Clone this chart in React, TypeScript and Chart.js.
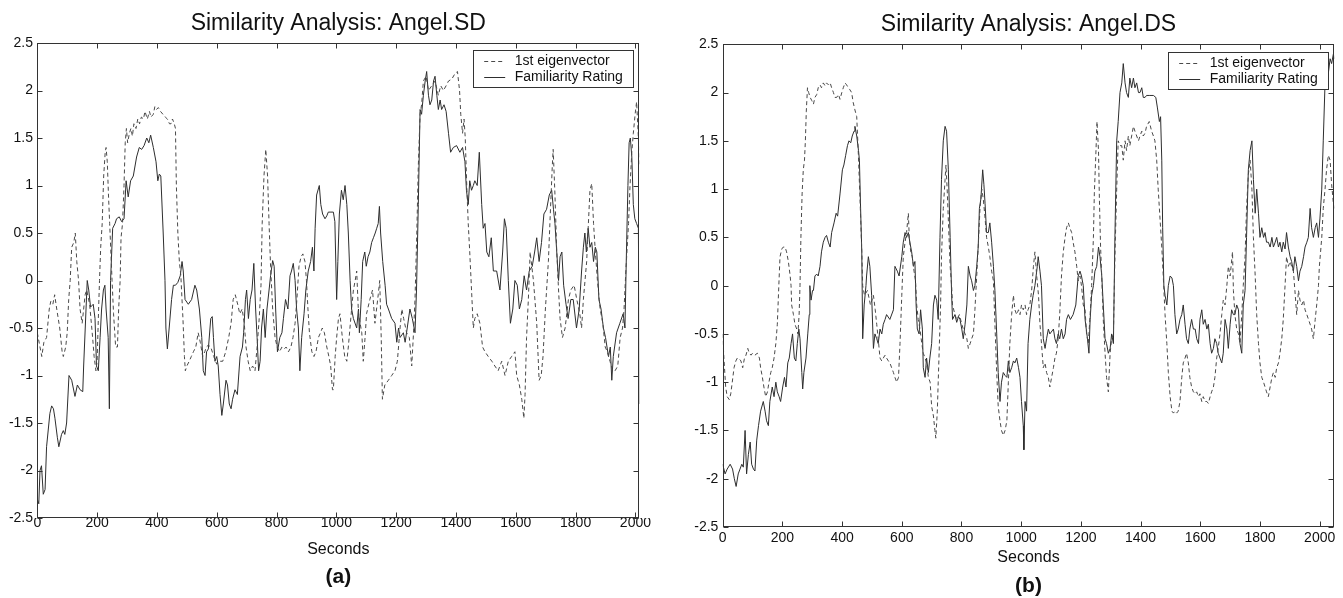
import React, { useEffect, useRef } from 'react';
import { Chart, registerables } from 'chart.js';

Chart.register(...registerables);

const FONT = "'Liberation Sans', Arial, Helvetica, sans-serif";
const TEXT_COLOR = '#111111';
const AXIS_COLOR = '#333333';
const EIG_COLOR = '#4a4a4a';
const FAM_COLOR = '#2e2e2e';

const seriesLabels = ['1st eigenvector', 'Familiarity Rating'];
const xLabel = 'Seconds';
const xTickValues = [0, 200, 400, 600, 800, 1000, 1200, 1400, 1600, 1800, 2000];
const yTickValues = [-2.5, -2, -1.5, -1, -0.5, 0, 0.5, 1, 1.5, 2, 2.5];
const yMin = -2.5;
const yMax = 2.5;

// ---- Panel (a): Angel.SD  ([seconds, value]) ----
const sdEigenvector: [number, number][] = [[0,-0.55],[9,-0.7],[15,-0.8],[22,-0.65],[31,-0.6],[40,-0.3],[45,-0.22],[52,-0.25],[58,-0.15],[65,-0.3],[75,-0.5],[83,-0.75],[87,-0.8],[95,-0.7],[100,-0.55],[105,-0.2],[110,0.0],[115,0.35],[122,0.4],[127,0.5],[132,0.2],[138,0.0],[143,-0.3],[150,-0.45],[155,-0.3],[160,-0.15],[165,-0.1],[175,-0.25],[185,-0.6],[190,-0.8],[196,-0.95],[200,-0.85],[205,-0.3],[208,0.0],[212,0.35],[217,0.6],[222,1.1],[227,1.35],[230,1.4],[234,1.25],[238,0.9],[242,0.6],[246,0.3],[250,0.0],[255,-0.35],[262,-0.7],[268,-0.7],[272,-0.3],[277,0.0],[280,0.45],[285,0.6],[290,1.0],[294,1.45],[298,1.6],[302,1.45],[308,1.55],[313,1.6],[318,1.52],[323,1.65],[330,1.6],[336,1.7],[342,1.65],[348,1.72],[355,1.7],[360,1.78],[368,1.7],[375,1.78],[380,1.72],[388,1.75],[393,1.83],[398,1.8],[405,1.82],[412,1.78],[420,1.75],[428,1.72],[435,1.7],[442,1.65],[447,1.65],[452,1.7],[458,1.65],[462,1.6],[465,1.0],[470,0.5],[475,0.2],[480,0.05],[487,-0.4],[492,-0.8],[495,-0.95],[500,-0.9],[508,-0.85],[515,-0.8],[522,-0.75],[530,-0.7],[538,-0.55],[545,-0.65],[553,-0.8],[560,-0.75],[565,-0.7],[572,-0.68],[580,-0.7],[590,-0.8],[600,-0.88],[610,-0.85],[620,-0.85],[630,-0.75],[640,-0.6],[648,-0.45],[655,-0.2],[662,-0.15],[670,-0.25],[677,-0.35],[685,-0.3],[692,-0.45],[698,-0.7],[705,-0.85],[712,-0.95],[720,-0.9],[728,-0.95],[735,-0.7],[742,-0.4],[748,-0.05],[752,0.6],[758,1.1],[764,1.38],[770,1.1],[775,0.6],[780,0.15],[787,-0.3],[795,-0.6],[802,-0.7],[810,-0.75],[818,-0.7],[826,-0.72],[832,-0.7],[840,-0.75],[848,-0.7],[855,-0.6],[862,-0.45],[868,-0.2],[875,0.15],[882,0.25],[888,0.28],[895,0.2],[900,0.0],[905,-0.3],[910,-0.55],[918,-0.75],[925,-0.8],[932,-0.75],[940,-0.6],[947,-0.55],[953,-0.5],[960,-0.55],[968,-0.7],[975,-0.8],[981,-0.9],[987,-1.15],[990,-1.15],[996,-0.8],[1001,-0.6],[1007,-0.4],[1012,-0.35],[1020,-0.6],[1028,-0.8],[1035,-0.85],[1040,-0.7],[1051,-0.3],[1057,-0.1],[1063,0.0],[1068,0.1],[1074,-0.35],[1085,-0.55],[1090,-0.85],[1096,-0.6],[1101,-0.35],[1112,-0.2],[1121,-0.1],[1129,-0.45],[1140,-0.15],[1145,0.0],[1150,-0.6],[1154,-1.25],[1162,-1.1],[1174,-1.05],[1185,-1.0],[1196,-0.95],[1204,-0.85],[1213,-0.5],[1219,-0.3],[1225,-0.4],[1235,-0.55],[1244,-0.6],[1252,-0.9],[1258,-0.55],[1263,-0.2],[1269,0.5],[1274,1.2],[1280,1.75],[1285,1.85],[1291,2.1],[1300,2.15],[1308,2.0],[1319,2.05],[1330,2.1],[1341,1.95],[1349,2.05],[1358,2.0],[1367,2.05],[1375,2.1],[1386,2.12],[1397,2.18],[1405,2.2],[1412,2.0],[1416,1.75],[1422,1.55],[1427,1.7],[1431,1.5],[1436,1.0],[1441,0.6],[1446,0.3],[1452,-0.1],[1458,-0.5],[1463,-0.4],[1471,-0.35],[1480,-0.45],[1489,-0.7],[1497,-0.75],[1508,-0.8],[1520,-0.85],[1530,-0.9],[1541,-0.95],[1553,-0.85],[1564,-1.0],[1575,-0.85],[1586,-0.8],[1597,-0.75],[1603,-1.0],[1612,-1.1],[1620,-1.25],[1627,-1.45],[1631,-1.2],[1636,-0.6],[1642,-0.2],[1648,0.3],[1659,0.0],[1670,-0.45],[1678,-1.05],[1685,-1.0],[1691,-0.8],[1699,-0.3],[1709,0.2],[1714,0.6],[1722,1.2],[1725,1.38],[1731,0.9],[1737,0.3],[1743,-0.1],[1748,-0.4],[1756,-0.6],[1765,-0.5],[1776,-0.2],[1784,-0.1],[1795,-0.05],[1804,-0.2],[1814,-0.35],[1820,-0.5],[1826,-0.2],[1837,0.2],[1842,0.55],[1848,0.95],[1854,1.02],[1860,0.6],[1865,0.35],[1873,0.0],[1882,-0.3],[1891,-0.45],[1899,-0.7],[1906,-0.75],[1915,-0.85],[1924,-0.95],[1932,-0.95],[1941,-0.9],[1949,-0.6],[1957,-0.5],[1962,-0.3],[1968,0.1],[1977,0.6],[1982,1.0],[1988,1.35],[1993,1.55],[1999,1.75],[2004,1.88],[2010,1.5],[2013,1.2]];

const sdFamiliarity: [number, number][] = [[0,-2.3],[5,-2.35],[9,-2.0],[14,-1.95],[20,-2.25],[26,-2.2],[31,-1.75],[42,-1.4],[48,-1.32],[54,-1.35],[59,-1.45],[67,-1.65],[72,-1.75],[81,-1.62],[87,-1.58],[92,-1.62],[98,-1.5],[106,-1.0],[115,-1.05],[126,-1.22],[134,-1.1],[143,-1.15],[152,-1.17],[155,-0.9],[163,-0.3],[167,0.0],[172,-0.1],[178,-0.28],[187,-0.25],[193,-0.4],[198,-0.9],[204,-0.95],[210,-0.6],[215,-0.3],[221,-0.1],[226,-0.05],[230,-0.3],[237,-0.6],[241,-1.35],[245,0.0],[252,0.55],[260,0.6],[265,0.65],[274,0.67],[282,0.62],[290,0.65],[297,1.05],[304,0.88],[312,1.05],[321,1.1],[332,1.3],[341,1.4],[349,1.38],[357,1.42],[366,1.5],[373,1.45],[379,1.53],[388,1.4],[397,1.25],[403,1.05],[408,1.12],[413,1.1],[421,0.5],[427,0.0],[430,-0.5],[435,-0.72],[441,-0.5],[449,-0.2],[455,-0.05],[462,-0.05],[470,-0.02],[478,0.05],[484,0.2],[488,0.1],[494,-0.2],[505,-0.25],[516,-0.2],[527,-0.05],[533,-0.1],[542,-0.3],[550,-0.6],[555,-0.95],[561,-1.0],[566,-0.75],[572,-0.72],[580,-0.4],[585,-0.38],[589,-0.6],[594,-0.85],[600,-0.8],[605,-0.9],[611,-1.2],[617,-1.42],[622,-1.3],[631,-1.05],[636,-1.1],[642,-1.3],[648,-1.35],[653,-1.25],[661,-1.15],[669,-1.2],[678,-0.8],[686,-0.7],[690,-0.55],[696,-0.2],[700,-0.1],[706,-0.4],[712,-0.2],[718,-0.1],[724,0.18],[730,-0.3],[735,-0.6],[740,-0.95],[745,-0.85],[750,-0.5],[756,-0.3],[762,-0.6],[768,-0.3],[775,-0.1],[780,0.05],[787,0.21],[792,0.15],[797,-0.3],[803,-0.75],[811,-0.6],[818,-0.55],[823,-0.4],[830,-0.2],[838,-0.3],[845,0.05],[850,0.1],[856,0.18],[862,0.0],[867,-0.3],[873,-0.5],[878,-0.95],[884,-0.6],[892,-0.35],[898,-0.1],[906,0.1],[914,0.2],[920,0.35],[925,0.1],[929,0.55],[934,0.9],[943,1.0],[948,0.8],[954,0.7],[962,0.65],[968,0.68],[973,0.72],[979,0.72],[990,0.72],[995,0.62],[1001,-0.2],[1005,0.2],[1010,0.7],[1017,0.95],[1023,0.85],[1029,1.0],[1035,0.8],[1040,0.5],[1046,0.0],[1051,-0.3],[1057,-0.4],[1068,-0.5],[1074,-0.3],[1077,-0.55],[1083,-0.2],[1088,0.2],[1095,0.3],[1100,0.15],[1106,0.25],[1112,0.3],[1118,0.4],[1124,0.45],[1130,0.5],[1135,0.55],[1140,0.6],[1144,0.78],[1148,0.5],[1155,0.2],[1163,-0.05],[1168,-0.25],[1174,-0.3],[1185,-0.4],[1196,-0.45],[1202,-0.65],[1208,-0.5],[1213,-0.6],[1224,-0.55],[1230,-0.65],[1237,-0.5],[1246,-0.3],[1254,-0.4],[1263,-0.55],[1268,-0.1],[1274,0.8],[1280,1.8],[1285,1.75],[1291,1.95],[1297,2.1],[1302,2.2],[1308,1.95],[1313,1.85],[1319,1.9],[1325,2.1],[1330,2.15],[1336,1.95],[1341,1.8],[1347,1.9],[1352,1.8],[1360,1.85],[1367,1.78],[1375,1.55],[1382,1.35],[1391,1.4],[1402,1.42],[1413,1.35],[1422,1.4],[1430,1.25],[1435,0.95],[1441,0.8],[1446,1.05],[1452,0.95],[1458,1.0],[1463,1.05],[1471,1.0],[1478,1.35],[1486,0.8],[1491,0.55],[1497,0.6],[1503,0.3],[1510,0.25],[1518,0.45],[1525,0.1],[1536,0.1],[1547,-0.1],[1556,0.3],[1562,0.65],[1568,0.55],[1575,0.0],[1582,-0.45],[1590,-0.3],[1597,0.0],[1605,-0.05],[1612,-0.3],[1620,-0.2],[1628,0.05],[1636,-0.1],[1645,0.1],[1655,0.15],[1663,0.3],[1670,0.45],[1678,0.2],[1686,0.4],[1694,0.7],[1703,0.75],[1712,0.9],[1720,0.95],[1726,0.75],[1731,0.6],[1737,0.3],[1743,0.0],[1748,0.25],[1754,0.3],[1760,-0.05],[1768,-0.25],[1775,-0.4],[1784,-0.2],[1792,-0.2],[1803,-0.5],[1812,-0.3],[1820,0.1],[1826,0.35],[1831,0.5],[1836,0.3],[1842,0.55],[1848,0.35],[1854,0.4],[1860,0.2],[1866,0.35],[1871,0.3],[1878,-0.2],[1885,-0.3],[1893,-0.5],[1900,-0.6],[1910,-0.8],[1916,-0.7],[1921,-1.05],[1926,-0.8],[1937,-0.55],[1948,-0.45],[1959,-0.35],[1965,-0.5],[1970,0.3],[1975,1.0],[1979,1.45],[1983,1.5],[1988,1.3],[1993,0.8],[1998,0.65],[2004,0.6],[2010,0.55],[2013,-1.3]];

// ---- Panel (b): Angel.DS ----
const dsEigenvector: [number, number][] = [[0,-0.5],[4,-0.75],[10,-1.05],[15,-1.15],[22,-1.18],[27,-1.12],[32,-1.0],[38,-0.85],[44,-0.78],[49,-0.75],[56,-0.76],[61,-0.78],[67,-0.85],[73,-0.75],[78,-0.72],[84,-0.65],[89,-0.7],[95,-0.72],[100,-0.7],[108,-0.72],[116,-0.7],[123,-0.75],[127,-0.85],[133,-0.95],[138,-1.05],[144,-1.15],[150,-1.1],[155,-1.0],[161,-0.9],[166,-0.85],[172,-0.75],[178,-0.6],[183,-0.4],[188,0.0],[192,0.3],[198,0.38],[203,0.4],[209,0.4],[214,0.35],[220,0.25],[226,0.1],[229,0.0],[231,-0.2],[237,-0.3],[242,-0.4],[248,-0.45],[252,-0.5],[256,-0.3],[259,0.0],[262,0.5],[266,0.95],[270,1.2],[274,1.3],[277,1.5],[280,1.8],[284,2.05],[288,2.0],[293,1.95],[298,1.92],[304,1.88],[309,1.95],[315,1.98],[320,2.05],[326,2.08],[331,2.05],[337,2.1],[343,2.07],[348,2.1],[354,2.08],[360,2.1],[365,2.05],[371,2.0],[376,1.95],[382,1.95],[388,1.98],[393,1.93],[399,2.0],[404,2.05],[410,2.1],[415,2.08],[421,2.05],[426,2.03],[432,2.0],[437,1.9],[443,1.82],[449,1.75],[454,1.4],[460,0.9],[466,0.35],[469,0.0],[475,-0.1],[485,-0.05],[495,-0.2],[505,-0.1],[511,-0.25],[516,-0.4],[521,-0.55],[527,-0.75],[533,-0.78],[538,-0.75],[544,-0.72],[549,-0.75],[555,-0.78],[560,-0.8],[566,-0.85],[572,-0.9],[577,-0.95],[583,-1.0],[589,-0.95],[594,-0.6],[600,-0.1],[605,0.3],[611,0.45],[616,0.55],[622,0.75],[625,0.5],[630,0.35],[635,0.3],[641,0.15],[646,0.05],[650,-0.2],[655,-0.35],[661,-0.45],[667,-0.6],[672,-0.7],[678,-0.75],[683,-0.8],[689,-0.95],[695,-1.0],[700,-1.25],[706,-1.35],[711,-1.5],[714,-1.58],[719,-1.3],[722,-1.0],[726,-0.6],[730,-0.2],[733,0.3],[739,0.8],[745,1.1],[748,1.25],[752,1.0],[757,0.6],[762,0.2],[767,0.0],[770,-0.2],[778,-0.3],[784,-0.35],[793,-0.3],[801,-0.4],[806,-0.45],[812,-0.5],[818,-0.55],[823,-0.65],[829,-0.6],[834,-0.55],[840,-0.5],[845,-0.25],[851,0.1],[856,0.4],[862,0.8],[868,1.0],[873,0.9],[879,0.7],[884,0.5],[890,0.4],[895,0.3],[901,0.15],[907,0.05],[912,-0.4],[918,-0.9],[923,-1.25],[929,-1.4],[934,-1.5],[940,-1.55],[946,-1.5],[952,-1.4],[957,-1.0],[962,-0.6],[968,-0.3],[974,-0.1],[979,-0.25],[985,-0.3],[991,-0.25],[996,-0.3],[1001,-0.2],[1007,-0.25],[1013,-0.2],[1018,-0.3],[1023,-0.25],[1029,-0.2],[1035,-0.05],[1041,0.2],[1046,0.35],[1052,0.1],[1058,-0.1],[1063,-0.4],[1068,-0.6],[1074,-0.85],[1080,-0.8],[1085,-0.9],[1091,-0.95],[1096,-1.05],[1102,-0.95],[1108,-0.85],[1113,-0.75],[1118,-0.7],[1124,-0.55],[1129,-0.3],[1135,0.1],[1141,0.35],[1147,0.5],[1152,0.6],[1158,0.65],[1163,0.6],[1169,0.55],[1174,0.45],[1180,0.35],[1186,0.2],[1191,0.05],[1197,0.1],[1202,0.0],[1208,-0.2],[1214,-0.25],[1219,-0.5],[1225,-0.6],[1231,-0.3],[1236,0.0],[1242,0.5],[1245,0.95],[1250,1.35],[1254,1.7],[1259,1.4],[1262,0.9],[1266,0.4],[1271,0.0],[1275,-0.35],[1281,-0.7],[1286,-0.95],[1292,-1.1],[1298,-0.7],[1303,-0.55],[1309,-0.5],[1314,0.3],[1320,1.0],[1325,1.5],[1331,1.45],[1337,1.45],[1342,1.3],[1348,1.5],[1353,1.4],[1359,1.55],[1364,1.45],[1370,1.55],[1376,1.65],[1381,1.6],[1387,1.55],[1393,1.5],[1398,1.55],[1404,1.6],[1409,1.55],[1415,1.58],[1420,1.65],[1429,1.7],[1437,1.6],[1443,1.55],[1448,1.5],[1454,1.3],[1459,1.0],[1465,0.7],[1471,0.4],[1476,0.1],[1482,-0.3],[1488,-0.6],[1493,-0.9],[1499,-1.15],[1505,-1.3],[1510,-1.32],[1515,-1.3],[1521,-1.32],[1526,-1.3],[1532,-1.2],[1538,-0.95],[1543,-0.8],[1549,-0.75],[1554,-0.7],[1560,-0.8],[1565,-0.95],[1571,-1.05],[1577,-1.1],[1583,-1.12],[1588,-1.1],[1594,-1.15],[1599,-1.12],[1605,-1.2],[1610,-1.15],[1616,-1.2],[1622,-1.2],[1627,-1.22],[1633,-1.15],[1638,-1.1],[1644,-1.05],[1649,-0.95],[1655,-0.75],[1660,-0.65],[1666,-0.5],[1672,-0.3],[1677,-0.15],[1683,-0.2],[1689,0.0],[1694,0.2],[1700,0.1],[1708,0.35],[1711,-0.05],[1716,-0.3],[1722,-0.45],[1728,-0.5],[1733,-0.6],[1739,-0.3],[1744,0.0],[1750,0.3],[1755,0.8],[1761,1.15],[1767,1.3],[1773,1.0],[1778,0.5],[1784,0.1],[1789,-0.3],[1795,-0.6],[1800,-0.8],[1806,-0.95],[1812,-1.0],[1817,-1.05],[1822,-1.1],[1828,-1.15],[1834,-1.05],[1840,-0.95],[1845,-0.9],[1851,-0.95],[1856,-0.85],[1862,-0.8],[1867,-0.7],[1873,-0.55],[1878,-0.35],[1884,0.0],[1889,0.3],[1895,0.2],[1901,0.25],[1906,0.2],[1912,0.15],[1917,-0.05],[1923,-0.3],[1929,-0.05],[1934,-0.15],[1940,-0.2],[1946,-0.15],[1951,-0.25],[1957,-0.3],[1968,-0.4],[1973,-0.45],[1979,-0.55],[1985,-0.35],[1990,-0.2],[1996,0.0],[1999,0.2],[2007,0.5],[2012,0.8],[2018,1.0],[2023,1.2],[2029,1.35],[2035,1.3],[2040,1.05],[2046,0.85],[2049,0.8]];

const dsFamiliarity: [number, number][] = [[0,-1.85],[8,-1.95],[15,-1.9],[25,-1.85],[33,-1.9],[39,-2.0],[45,-2.08],[52,-1.95],[58,-1.9],[64,-1.85],[69,-1.88],[75,-1.5],[80,-1.95],[86,-1.75],[92,-1.62],[97,-1.85],[103,-1.9],[108,-1.92],[114,-1.6],[120,-1.45],[127,-1.3],[136,-1.2],[142,-1.3],[147,-1.4],[153,-1.45],[158,-1.2],[166,-1.05],[172,-1.15],[178,-1.0],[183,-1.1],[189,-1.15],[194,-1.2],[201,-1.05],[207,-0.95],[212,-1.05],[218,-0.8],[223,-0.75],[229,-0.6],[234,-0.5],[240,-0.75],[245,-0.78],[250,-0.6],[255,-0.45],[259,-0.55],[265,-0.9],[268,-1.07],[272,-0.9],[279,-0.75],[285,-0.5],[290,-0.3],[292,0.0],[296,-0.15],[301,-0.05],[304,-0.05],[309,0.1],[315,0.12],[320,0.1],[326,0.2],[331,0.35],[337,0.45],[343,0.5],[348,0.52],[354,0.45],[360,0.4],[365,0.55],[373,0.65],[380,0.75],[385,0.72],[393,0.95],[401,1.2],[406,1.25],[412,1.35],[418,1.45],[423,1.5],[429,1.48],[434,1.55],[440,1.6],[443,1.65],[449,1.55],[455,1.4],[458,1.3],[462,0.8],[466,0.35],[469,-0.55],[474,-0.2],[480,0.0],[482,0.1],[488,0.3],[493,0.2],[499,-0.1],[505,-0.65],[510,-0.5],[516,-0.55],[521,-0.6],[527,-0.45],[533,-0.5],[538,-0.4],[544,-0.35],[549,-0.3],[560,-0.35],[572,-0.25],[577,0.2],[585,0.15],[591,0.1],[600,0.3],[605,0.45],[611,0.55],[616,0.5],[622,0.55],[627,0.45],[633,0.35],[639,0.2],[644,0.25],[648,-0.2],[652,-0.45],[658,-0.5],[663,-0.25],[669,-0.45],[672,-0.85],[678,-0.95],[683,-0.75],[689,-0.9],[694,-0.75],[700,-0.6],[706,-0.2],[711,-0.1],[717,-0.15],[722,-0.35],[728,0.5],[733,1.1],[739,1.5],[745,1.65],[750,1.6],[756,1.2],[762,0.5],[767,-0.1],[770,-0.35],[778,-0.3],[784,-0.38],[790,-0.32],[795,-0.35],[801,-0.45],[806,-0.55],[812,-0.4],[818,-0.2],[823,0.2],[829,0.1],[834,0.05],[840,-0.05],[845,0.0],[851,0.2],[856,0.4],[860,0.8],[865,0.9],[871,1.2],[875,1.05],[879,0.85],[884,0.55],[890,0.55],[895,0.65],[901,0.45],[907,0.2],[912,-0.05],[918,-0.5],[923,-0.9],[929,-1.2],[934,-1.0],[940,-0.9],[946,-0.93],[952,-0.95],[957,-0.78],[962,-0.9],[968,-0.85],[974,-0.78],[979,-0.8],[985,-0.75],[991,-0.85],[996,-0.95],[1001,-1.2],[1007,-1.45],[1009,-1.7],[1013,-1.2],[1018,-1.3],[1023,-0.6],[1029,-0.35],[1035,-0.2],[1040,-0.1],[1046,0.0],[1054,0.2],[1057,0.3],[1063,0.15],[1068,0.0],[1074,-0.55],[1080,-0.65],[1085,-0.55],[1091,-0.45],[1096,-0.5],[1108,-0.45],[1113,-0.55],[1118,-0.6],[1124,-0.5],[1129,-0.55],[1135,-0.45],[1141,-0.55],[1147,-0.5],[1152,-0.35],[1158,-0.3],[1165,-0.35],[1174,-0.3],[1183,-0.2],[1191,0.1],[1197,0.15],[1202,0.1],[1208,0.0],[1214,-0.35],[1222,-0.55],[1227,-0.7],[1231,-0.35],[1236,-0.1],[1242,0.0],[1247,0.15],[1253,0.2],[1259,0.4],[1264,0.3],[1270,0.1],[1275,-0.2],[1281,-0.55],[1286,-0.6],[1292,-0.7],[1298,-0.65],[1303,-0.5],[1309,-0.6],[1314,0.5],[1320,1.5],[1325,1.7],[1331,2.0],[1337,2.1],[1342,2.3],[1348,2.1],[1353,2.0],[1359,1.95],[1364,2.15],[1370,2.05],[1376,2.15],[1381,2.05],[1387,2.1],[1393,2.0],[1398,2.0],[1404,2.05],[1409,1.95],[1415,1.95],[1420,1.97],[1431,1.97],[1443,1.97],[1451,1.95],[1456,1.85],[1463,1.7],[1467,1.75],[1471,1.3],[1474,0.6],[1478,0.0],[1482,-0.1],[1488,-0.2],[1493,0.0],[1499,0.1],[1505,0.08],[1510,0.0],[1515,-0.3],[1521,-0.5],[1526,-0.45],[1532,-0.35],[1538,-0.3],[1543,-0.2],[1549,-0.4],[1554,-0.55],[1560,-0.6],[1565,-0.45],[1571,-0.35],[1577,-0.45],[1583,-0.45],[1588,-0.55],[1594,-0.6],[1599,-0.35],[1605,-0.25],[1610,-0.4],[1616,-0.35],[1622,-0.45],[1627,-0.4],[1633,-0.6],[1638,-0.7],[1644,-0.65],[1649,-0.55],[1655,-0.6],[1660,-0.7],[1666,-0.75],[1672,-0.8],[1677,-0.7],[1683,-0.35],[1689,-0.45],[1694,-0.65],[1700,-0.4],[1705,-0.25],[1711,-0.3],[1716,-0.3],[1722,-0.2],[1728,-0.25],[1733,-0.6],[1739,-0.7],[1744,-0.2],[1750,-0.05],[1755,0.5],[1761,1.2],[1767,1.4],[1773,1.5],[1778,1.1],[1784,0.75],[1789,1.0],[1795,0.75],[1800,0.5],[1806,0.6],[1812,0.5],[1817,0.55],[1822,0.45],[1828,0.45],[1834,0.4],[1840,0.5],[1845,0.4],[1851,0.45],[1856,0.5],[1862,0.4],[1867,0.45],[1873,0.35],[1878,0.45],[1884,0.38],[1889,0.55],[1895,0.4],[1901,0.3],[1906,0.25],[1912,0.15],[1917,0.3],[1923,0.2],[1929,0.05],[1934,0.15],[1940,0.2],[1946,0.3],[1951,0.4],[1957,0.45],[1962,0.5],[1968,0.8],[1973,0.6],[1979,0.5],[1985,0.6],[1990,0.65],[1996,0.5],[2001,0.7],[2007,1.0],[2012,1.5],[2018,2.1],[2023,2.25],[2029,2.2],[2035,2.35],[2040,2.3],[2046,2.4],[2049,2.35]];

const panelTitles = ['Similarity Analysis: Angel.SD', 'Similarity Analysis: Angel.DS'];
const panelCaptions = ['(a)', '(b)'];
const panelXMax = [2013, 2049];

// ---- layout (pixels) ----
const layouts = [
  { left: 0, width: 680, padRight: 40.7, padBottom: 10, yWidth: 37.3, titleTop: 9.4, titleBottom: 6.0,
    xHeight: 41, tickPad: -3.4, capTop: 8, legendRight: 6.3, legendTop: 7 },
  { left: 680, width: 663, padRight: 8.7, padBottom: 1.5, yWidth: 42.7, titleTop: 11.1, titleBottom: 5.6,
    xHeight: 40.6, tickPad: 2.9, capTop: 7.9, legendRight: 6.3, legendTop: 7.7 },
];

const framePlugin = {
  id: 'matlabFrame',
  afterDatasetsDraw(chart: any) {
    const { ctx, chartArea: a, scales } = chart;
    const xs = scales.x, ys = scales.y;
    const L = 5;
    const l = Math.round(a.left) + 0.5, r = Math.round(a.right) - 0.5;
    const t = Math.round(a.top) + 0.5, b = Math.round(a.bottom) - 0.5;
    ctx.save();
    ctx.strokeStyle = AXIS_COLOR;
    ctx.lineWidth = 1;
    ctx.setLineDash([]);
    ctx.beginPath();
    xs.ticks.forEach((tk: any) => {
      const px = Math.round(xs.getPixelForValue(tk.value)) + 0.5;
      ctx.moveTo(px, b); ctx.lineTo(px, b - L);
      ctx.moveTo(px, t); ctx.lineTo(px, t + L);
    });
    ys.ticks.forEach((tk: any) => {
      const py = Math.round(ys.getPixelForValue(tk.value)) + 0.5;
      ctx.moveTo(l, py); ctx.lineTo(l + L, py);
      ctx.moveTo(r, py); ctx.lineTo(r - L, py);
    });
    ctx.stroke();
    ctx.strokeRect(l, t, r - l, b - t);
    ctx.restore();
  },
};

const boxLegendPlugin = {
  id: 'boxLegend',
  afterDraw(chart: any, _args: any, opts: any) {
    const { ctx, chartArea: a } = chart;
    const ds = chart.data.datasets;
    ctx.save();
    ctx.font = `14px ${FONT}`;
    const textW = Math.max(...ds.map((d: any) => ctx.measureText(d.label).width));
    const padL = 10.7, sample = 21, gap = 9.5, padR = 11, h = 37, row0 = 10.7, rowGap = 16;
    const w = padL + sample + gap + textW + padR;
    const right = Math.round(a.right - opts.marginRight) + 0.5;
    const left = Math.round(right - w) + 0.5;
    const top = Math.round(a.top + opts.marginTop) + 0.5;
    ctx.fillStyle = '#ffffff';
    ctx.fillRect(left, top, right - left, h);
    ctx.strokeStyle = AXIS_COLOR;
    ctx.lineWidth = 1;
    ctx.strokeRect(left, top, right - left, h);
    ds.forEach((d: any, i: number) => {
      const cy = top + row0 + i * rowGap;
      ctx.beginPath();
      ctx.setLineDash(d.borderDash || []);
      ctx.strokeStyle = d.borderColor;
      ctx.moveTo(left + padL, Math.round(cy) + 0.5);
      ctx.lineTo(left + padL + sample, Math.round(cy) + 0.5);
      ctx.stroke();
      ctx.setLineDash([]);
      ctx.fillStyle = TEXT_COLOR;
      ctx.textBaseline = 'middle';
      ctx.textAlign = 'left';
      ctx.fillText(d.label, left + padL + sample + gap, cy);
    });
    ctx.restore();
  },
};

function toPoints(arr: [number, number][]) {
  return arr.map(([x, y]) => ({ x, y }));
}

function makeConfig(i: number, eig: [number, number][], fam: [number, number][]): any {
  const g = layouts[i];
  return {
    type: 'line',
    data: {
      datasets: [
        { label: seriesLabels[0], data: toPoints(eig), borderColor: EIG_COLOR, borderWidth: 1, borderDash: [4, 3], pointRadius: 0, tension: 0, fill: false },
        { label: seriesLabels[1], data: toPoints(fam), borderColor: FAM_COLOR, borderWidth: 1, pointRadius: 0, tension: 0, fill: false },
      ],
    },
    options: {
      responsive: false,
      animation: false,
      devicePixelRatio: 1,
      events: [],
      layout: { padding: { left: 0, right: g.padRight, top: 0, bottom: g.padBottom } },
      plugins: {
        legend: { display: false },
        tooltip: { enabled: false },
        title: {
          display: true, text: panelTitles[i], color: TEXT_COLOR, fullSize: false,
          font: { family: FONT, size: 23, weight: 'normal', lineHeight: 1.2 },
          padding: { top: g.titleTop, bottom: g.titleBottom },
        },
        subtitle: {
          display: true, text: panelCaptions[i], position: 'bottom', color: TEXT_COLOR, fullSize: false,
          font: { family: FONT, size: 21, weight: 'bold', lineHeight: 1 },
          padding: { top: g.capTop, bottom: 0 },
        },
        boxLegend: { marginRight: g.legendRight, marginTop: g.legendTop },
      },
      scales: {
        x: {
          type: 'linear', min: 0, max: panelXMax[i],
          grid: { display: false, drawTicks: false },
          border: { display: false },
          afterBuildTicks: (s: any) => { s.ticks = xTickValues.map((v) => ({ value: v })); },
          ticks: {
            maxRotation: 0, autoSkip: false,
            color: TEXT_COLOR, padding: g.tickPad, font: { family: FONT, size: 14 },
            callback: (v: any) => String(v),
          },
          title: { display: true, text: xLabel, color: TEXT_COLOR, font: { family: FONT, size: 16 }, padding: { top: 0, bottom: 0 } },
          afterFit: (s: any) => { s.height = g.xHeight; },
        },
        y: {
          type: 'linear', min: yMin, max: yMax,
          grid: { display: false, drawTicks: false },
          border: { display: false },
          afterBuildTicks: (s: any) => { s.ticks = yTickValues.map((v) => ({ value: v })); },
          ticks: {
            color: TEXT_COLOR, padding: 4.3, font: { family: FONT, size: 14 },
            callback: (v: any) => String(v),
          },
          afterFit: (s: any) => { s.width = g.yWidth; },
        },
      },
    },
    plugins: [framePlugin, boxLegendPlugin],
  };
}

function Panel({ index, eig, fam }: { index: number; eig: [number, number][]; fam: [number, number][] }) {
  const ref = useRef<HTMLCanvasElement | null>(null);
  const g = layouts[index];
  useEffect(() => {
    if (!ref.current) return;
    const chart = new Chart(ref.current, makeConfig(index, eig, fam));
    return () => chart.destroy();
  }, [index, eig, fam]);
  return (
    <canvas
      ref={ref}
      width={g.width}
      height={598}
      style={{ position: 'absolute', left: g.left, top: 0, width: g.width, height: 598, display: 'block' }}
    />
  );
}

export default function App() {
  return (
    <div style={{ position: 'absolute', left: 0, top: 0, width: 1343, height: 598, background: '#ffffff', overflow: 'hidden' }}>
      <Panel index={0} eig={sdEigenvector} fam={sdFamiliarity} />
      <Panel index={1} eig={dsEigenvector} fam={dsFamiliarity} />
    </div>
  );
}
